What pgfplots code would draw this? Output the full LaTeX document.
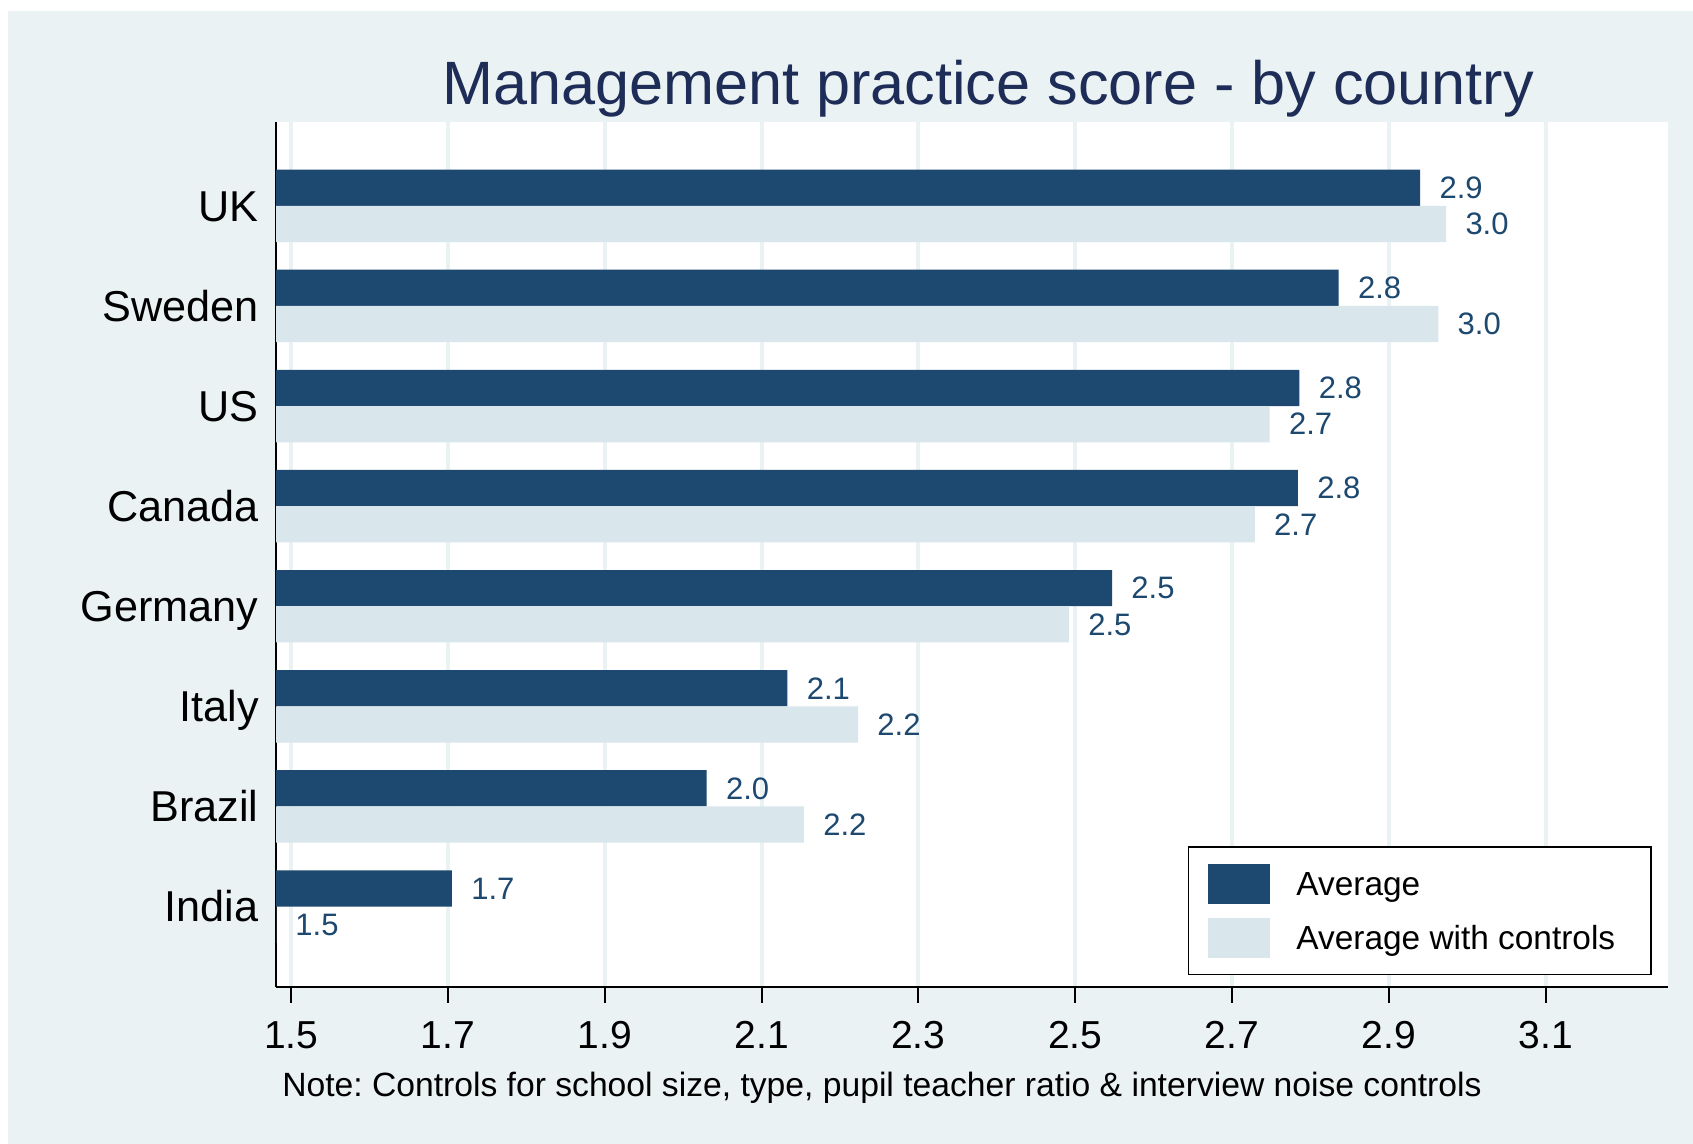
\documentclass[border=0pt]{standalone}
\usepackage{pgfplots}
\pgfplotsset{compat=1.18}
\usepackage{fontspec}
\setmainfont{Liberation Sans}
\definecolor{bgcol}{RGB}{234,242,243}
\definecolor{navyc}{RGB}{29,72,111}
\definecolor{lightc}{RGB}{217,230,236}
\definecolor{titlec}{RGB}{30,45,87}
\frenchspacing
\begin{document}
\begin{tikzpicture}
\useasboundingbox (0,0) rectangle (846.5pt,572pt);
\fill[white] (0,0) rectangle (846.5pt,572pt);
\fill[bgcol] (4pt,0) rectangle (846.5pt,566.5pt);
\node[anchor=base, text=titlec, font=\fontsize{30.6}{33}\selectfont] at (494pt,519.8pt) {Management practice score - by country};
\node[anchor=base west, font=\fontsize{16.83}{18}\selectfont] at (137.6pt,23.6pt) {Note: Controls for school size, type, pupil teacher ratio \& interview noise controls};
\begin{axis}[
  at={(138pt,78.5pt)}, anchor=south west,
  scale only axis, width=696pt, height=432.5pt,
  xmin=1.4807, xmax=3.256, ymin=-0.803, ymax=7.837,
  axis background/.style={fill=white},
  axis x line=bottom, axis y line=left,
  axis line style={-, black, line width=1.1pt},
  xtick={1.5,1.7,1.9,2.1,2.3,2.5,2.7,2.9,3.1},
  xticklabels={1.5,1.7,1.9,2.1,2.3,2.5,2.7,2.9,3.1},
  ytick={0,1,2,3,4,5,6,7},
  yticklabels={India,Brazil,Italy,Germany,Canada,US,Sweden,UK},
  tick align=outside, major tick length=8pt,
  xtick style={black, line width=1pt},
  ytick style={draw=none},
  xticklabel style={anchor=base, inner sep=0pt, yshift=-22.6pt, font=\fontsize{19.5}{21}\selectfont},
  yticklabel style={anchor=base east, inner sep=0pt, xshift=-0.5pt, yshift=-7.7pt, font=\fontsize{21.6}{23}\selectfont},
  xmajorgrids, major grid style={draw=bgcol, line width=2pt},
  /pgf/number format/assume math mode=true,
  legend style={at={(0.9885,0.0133)}, anchor=south east, draw=black, line width=0.8pt, fill=white,
    inner xsep=10pt, inner ysep=8.5pt, row sep=6.9pt, column sep=11pt,
    font=\fontsize{16.7}{18}\selectfont},
  legend cell align=left,
]
\addplot[xbar, bar width=0.362, bar shift=0.181, fill=navyc, draw=none,
  nodes near coords, point meta=explicit symbolic,
  nodes near coords style={anchor=west, inner sep=0pt, xshift=9.5pt, yshift=9.06pt, text=navyc, font=\fontsize{15.5}{17}\selectfont},
  legend image code/.code={\fill[navyc] (0pt,-9.4pt) rectangle (31pt,10.6pt);}]
table[x=x, y=y, meta=lab]{
y x lab
7 2.940 2.9
6 2.836 2.8
5 2.786 2.8
4 2.784 2.8
3 2.547 2.5
2 2.133 2.1
1 2.030 2.0
0 1.705 1.7
};
\addlegendentry{Average}
\addplot[xbar, bar width=0.362, bar shift=-0.181, fill=lightc, draw=none,
  nodes near coords, point meta=explicit symbolic,
  nodes near coords style={anchor=west, inner sep=0pt, xshift=9.5pt, yshift=-9.06pt, text=navyc, font=\fontsize{15.5}{17}\selectfont},
  legend image code/.code={\fill[lightc] (0pt,-9.4pt) rectangle (31pt,10.6pt);}]
table[x=x, y=y, meta=lab]{
y x lab
7 2.973 3.0
6 2.963 3.0
5 2.748 2.7
4 2.729 2.7
3 2.492 2.5
2 2.223 2.2
1 2.154 2.2
0 1.4807 1.5
};
\addlegendentry{Average with controls\hspace*{6pt}}
\end{axis}
\end{tikzpicture}
\end{document}
